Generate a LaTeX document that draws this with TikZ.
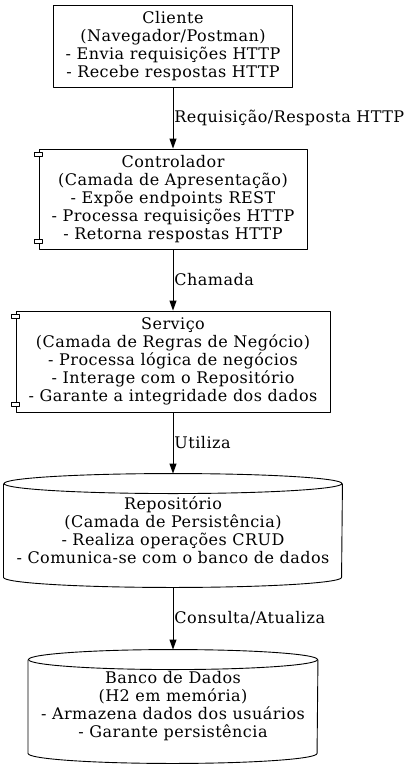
\documentclass[tikz,border=0pt]{standalone}
\usepackage{fontspec}
\setmainfont{DejaVu Serif}[LetterSpace=3]
\usetikzlibrary{arrows.meta}
\begin{document}
\begin{tikzpicture}[x=1bp,y=-1bp,line join=round,line width=0.9bp,>={Triangle[length=10bp,width=7bp]},
  box/.style={draw,align=center,inner sep=0pt,font=\fontsize{16bp}{18bp}\selectfont},
  dbox/.style={box,draw=none},
  lbl/.style={anchor=west,inner sep=1bp,font=\fontsize{16bp}{18bp}\selectfont}]
\useasboundingbox (0,0) rectangle (413,768);

\node[box,minimum width=239bp,minimum height=82bp] (cliente) at (173,46) {Cliente\\(Navegador/Postman)\\- Envia requisições HTTP\\- Recebe respostas HTTP};
\node[box,minimum width=268bp,minimum height=100bp] (ctrl) at (173,199) {Controlador\\(Camada de Apresentação)\\- Expõe endpoints REST\\- Processa requisições HTTP\\- Retorna respostas HTTP};
\node[box,minimum width=314bp,minimum height=101bp] (servico) at (173,361.5) {Serviço\\(Camada de Regras de Negócio)\\- Processa lógica de negócios\\- Interage com o Repositório\\- Garante a integridade dos dados};
\node[dbox,minimum width=338bp,minimum height=113bp] (repo) at (173,530.5) {Repositório\\(Camada de Persistência)\\- Realiza operações CRUD\\- Comunica-se com o banco de dados};
\node[dbox,minimum width=289bp,minimum height=113bp] (banco) at (173,706.5) {Banco de Dados\\(H2 em memória)\\- Armazena dados dos usuários\\- Garante persistência};

% component tabs
\draw[fill=white] ([xshift=-4bp,yshift=-4bp]ctrl.north west) rectangle ++(8bp,-4bp);
\draw[fill=white] ([xshift=-4bp,yshift=6bp]ctrl.south west) rectangle ++(8bp,4bp);
\draw[fill=white] ([xshift=-4bp,yshift=-4bp]servico.north west) rectangle ++(8bp,-4bp);
\draw[fill=white] ([xshift=-4bp,yshift=6bp]servico.south west) rectangle ++(8bp,4bp);

% cylinders
\draw ([yshift=-10bp]repo.north) ellipse [x radius=169bp,y radius=10bp];
\draw ([yshift=-10bp]repo.north west) -- ([yshift=10bp]repo.south west) arc[start angle=180,end angle=360,x radius=169bp,y radius=10bp] -- ([yshift=-10bp]repo.north east);
\draw ([yshift=-10bp]banco.north) ellipse [x radius=144.5bp,y radius=10bp];
\draw ([yshift=-10bp]banco.north west) -- ([yshift=10bp]banco.south west) arc[start angle=180,end angle=360,x radius=144.5bp,y radius=10bp] -- ([yshift=-10bp]banco.north east);

\draw[->] (cliente.south) -- (ctrl.north) node[lbl,midway] {Requisição/Resposta HTTP};
\draw[->] (ctrl.south) -- (servico.north) node[lbl,midway] {Chamada};
\draw[->] (servico.south) -- (repo.north) node[lbl,midway] {Utiliza};
\draw[->] (repo.south) -- (banco.north) node[lbl,midway] {Consulta/Atualiza};
\end{tikzpicture}
\end{document}
